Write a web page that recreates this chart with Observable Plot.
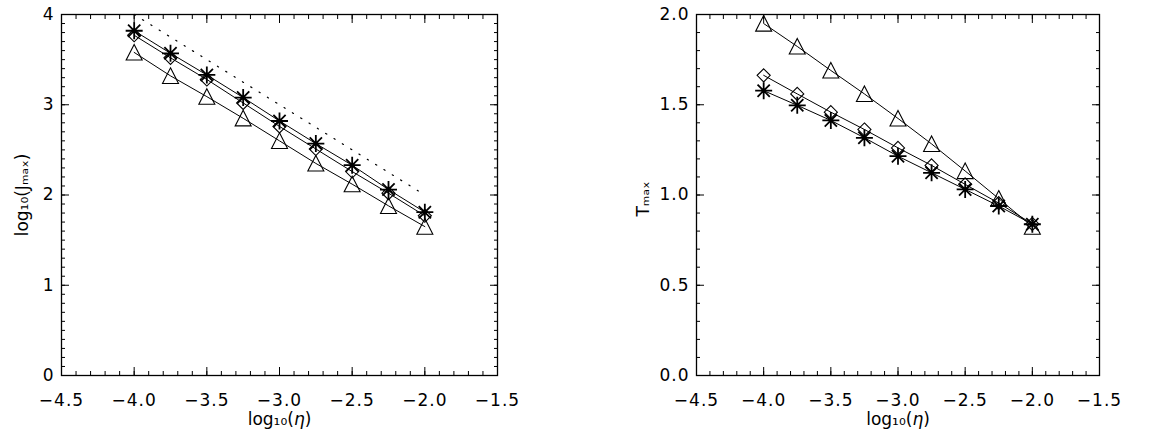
<!DOCTYPE html>
<html>
<head>
<meta charset="utf-8">
<script src="https://cdn.jsdelivr.net/npm/d3@7"></script>
<script src="https://cdn.jsdelivr.net/npm/@observablehq/plot@0.6"></script>
<style>
  html, body { margin: 0; padding: 0; background: #fff; }
  #row { display: flex; width: 1164px; height: 433px; }
  svg { font-family: "DejaVu Sans", sans-serif; }
  g[aria-label$="tick label"] { letter-spacing: 1px; }
</style>
</head>
<body>
<div id="row"></div>
<script>
// ---- data ----
const etaLog = [-4.0, -3.75, -3.5, -3.25, -3.0, -2.75, -2.5, -2.25, -2.0];

const jAsterisk = [3.82, 3.57, 3.33, 3.08, 2.82, 2.57, 2.33, 2.06, 1.81];
const jDiamond  = [3.77, 3.52, 3.28, 3.02, 2.76, 2.51, 2.26, 2.02, 1.77];
const jTriangle = [3.58, 3.32, 3.09, 2.85, 2.60, 2.35, 2.12, 1.88, 1.65];

const refEta = [-4.0, -2.0];
const refJ   = [4.0, 2.0];

const tTriangle = [1.95, 1.823, 1.69, 1.56, 1.424, 1.283, 1.133, 0.98, 0.825];
const tDiamond  = [1.663, 1.56, 1.459, 1.363, 1.261, 1.164, 1.059, 0.955, 0.84];
const tAsterisk = [1.578, 1.497, 1.413, 1.317, 1.215, 1.123, 1.031, 0.939, 0.838];

const xTicks = [-4.5, -4.0, -3.5, -3.0, -2.5, -2.0, -1.5];
const yTicksJ = [0, 1, 2, 3, 4];
const yTicksT = [0.0, 0.5, 1.0, 1.5, 2.0];

const labelX = "log₁₀(η)";
const labelJ = "log₁₀(Jₘₐₓ)";
const labelT = "Tₘₐₓ";

// ---- symbols (IDL-like) ----
const asteriskSym = {draw(ctx, size) {
  const r = Math.sqrt(size / Math.PI), d = r * 0.72;
  ctx.moveTo(-r, 0); ctx.lineTo(r, 0);
  ctx.moveTo(0, -r); ctx.lineTo(0, r);
  ctx.moveTo(-d, -d); ctx.lineTo(d, d);
  ctx.moveTo(-d, d); ctx.lineTo(d, -d);
}};
const diamondSym = {draw(ctx, size) {
  const r = Math.sqrt(size / Math.PI) * 0.82;
  ctx.moveTo(0, -r); ctx.lineTo(r, 0); ctx.lineTo(0, r); ctx.lineTo(-r, 0); ctx.closePath();
}};
const triangleSym = {draw(ctx, size) {
  const r = Math.sqrt(size / Math.PI);
  ctx.moveTo(0, -r); ctx.lineTo(r, r * 0.95); ctx.lineTo(-r, r * 0.95); ctx.closePath();
}};

const rows = (ys) => etaLog.map((x, i) => ({x, y: ys[i]}));
const fmt1 = d3.format(".1f");

function tickAxes(xMinor, yMinor, yFormat) {
  return [
    Plot.axisX(xTicks, {anchor: "bottom", tickSize: 0, tickPadding: 18, fontSize: 17, tickFormat: d => fmt1(d), label: null}),
    Plot.axisY(yFormat.ticks, {anchor: "left", tickSize: 0, tickPadding: 7, fontSize: 17, tickFormat: yFormat.fmt, label: null}),
    Plot.axisX(xTicks, {anchor: "bottom", tickSize: -8, text: null, label: null}),
    Plot.axisX(xTicks, {anchor: "top", tickSize: -8, text: null, label: null}),
    Plot.axisY(yFormat.ticks, {anchor: "left", tickSize: -8, text: null, label: null}),
    Plot.axisY(yFormat.ticks, {anchor: "right", tickSize: -8, text: null, label: null}),
    Plot.axisX(xMinor, {anchor: "bottom", tickSize: -4, text: null, label: null}),
    Plot.axisX(xMinor, {anchor: "top", tickSize: -4, text: null, label: null}),
    Plot.axisY(yMinor, {anchor: "left", tickSize: -4, text: null, label: null}),
    Plot.axisY(yMinor, {anchor: "right", tickSize: -4, text: null, label: null}),
    Plot.frame({stroke: "black", strokeWidth: 1.3})
  ];
}

function seriesMarks(a, d, t) {
  const line = {x: "x", y: "y", stroke: "black", strokeWidth: 1};
  return [
    Plot.line(rows(a), line),
    Plot.line(rows(d), line),
    Plot.line(rows(t), line),
    Plot.dot(rows(t), {x: "x", y: "y", symbol: triangleSym, r: 8, fill: "none", stroke: "black", strokeWidth: 1.1}),
    Plot.dot(rows(d), {x: "x", y: "y", symbol: diamondSym, r: 8, fill: "none", stroke: "black", strokeWidth: 1.1}),
    Plot.dot(rows(a), {x: "x", y: "y", symbol: asteriskSym, r: 8.5, fill: "none", stroke: "black", strokeWidth: 1.8})
  ];
}

const xMinor = d3.range(-45, -14, 1).map(v => v / 10);
const yMinorJ = d3.range(0, 41, 1).map(v => v / 10);
const yMinorT = d3.range(0, 21, 1).map(v => v / 10);

const styleObj = {fontFamily: "DejaVu Sans, sans-serif", fontSize: "17px", color: "black", background: "white"};

const left = Plot.plot({
  width: 582, height: 433,
  marginLeft: 61, marginRight: 85, marginTop: 14, marginBottom: 58,
  style: styleObj,
  x: {domain: [-4.5, -1.5]},
  y: {domain: [0, 4]},
  marks: [
    ...tickAxes(xMinor, yMinorJ, {ticks: yTicksJ, fmt: d => String(d)}),
    Plot.line(refEta.map((x, i) => ({x, y: refJ[i]})), {x: "x", y: "y", stroke: "black", strokeWidth: 1.2, strokeDasharray: "1.3,8.5"}),
    ...seriesMarks(jAsterisk, jDiamond, jTriangle),
    Plot.text([labelJ], {frameAnchor: "left", textAnchor: "middle", lineAnchor: "middle", dx: -39, rotate: -90, fontSize: 17, fill: "black"}),
    Plot.text([labelX], {frameAnchor: "bottom", textAnchor: "middle", lineAnchor: "bottom", dy: 49, fontSize: 17, fill: "black"})
  ]
});

const right = Plot.plot({
  width: 582, height: 433,
  marginLeft: 114, marginRight: 65, marginTop: 14, marginBottom: 58,
  style: styleObj,
  x: {domain: [-4.5, -1.5]},
  y: {domain: [0, 2]},
  marks: [
    ...tickAxes(xMinor, yMinorT, {ticks: yTicksT, fmt: d => fmt1(d)}),
    ...seriesMarks(tAsterisk, tDiamond, tTriangle),
    Plot.text([labelT], {frameAnchor: "left", textAnchor: "middle", lineAnchor: "middle", dx: -53, dy: 4, rotate: -90, fontSize: 17, fill: "black"}),
    Plot.text([labelX], {frameAnchor: "bottom", textAnchor: "middle", lineAnchor: "bottom", dy: 49, fontSize: 17, fill: "black"})
  ]
});

document.getElementById("row").append(left, right);

// italic eta, as in the reference
document.querySelectorAll("svg text").forEach(t => {
  if (t.textContent.includes("η") && t.children.length === 0) {
    const parts = t.textContent.split("η");
    t.textContent = "";
    const ns = "http://www.w3.org/2000/svg";
    t.append(parts[0]);
    const ts = document.createElementNS(ns, "tspan");
    ts.setAttribute("font-style", "italic");
    ts.textContent = "η";
    t.append(ts, parts[1]);
  }
});
</script>
</body>
</html>
